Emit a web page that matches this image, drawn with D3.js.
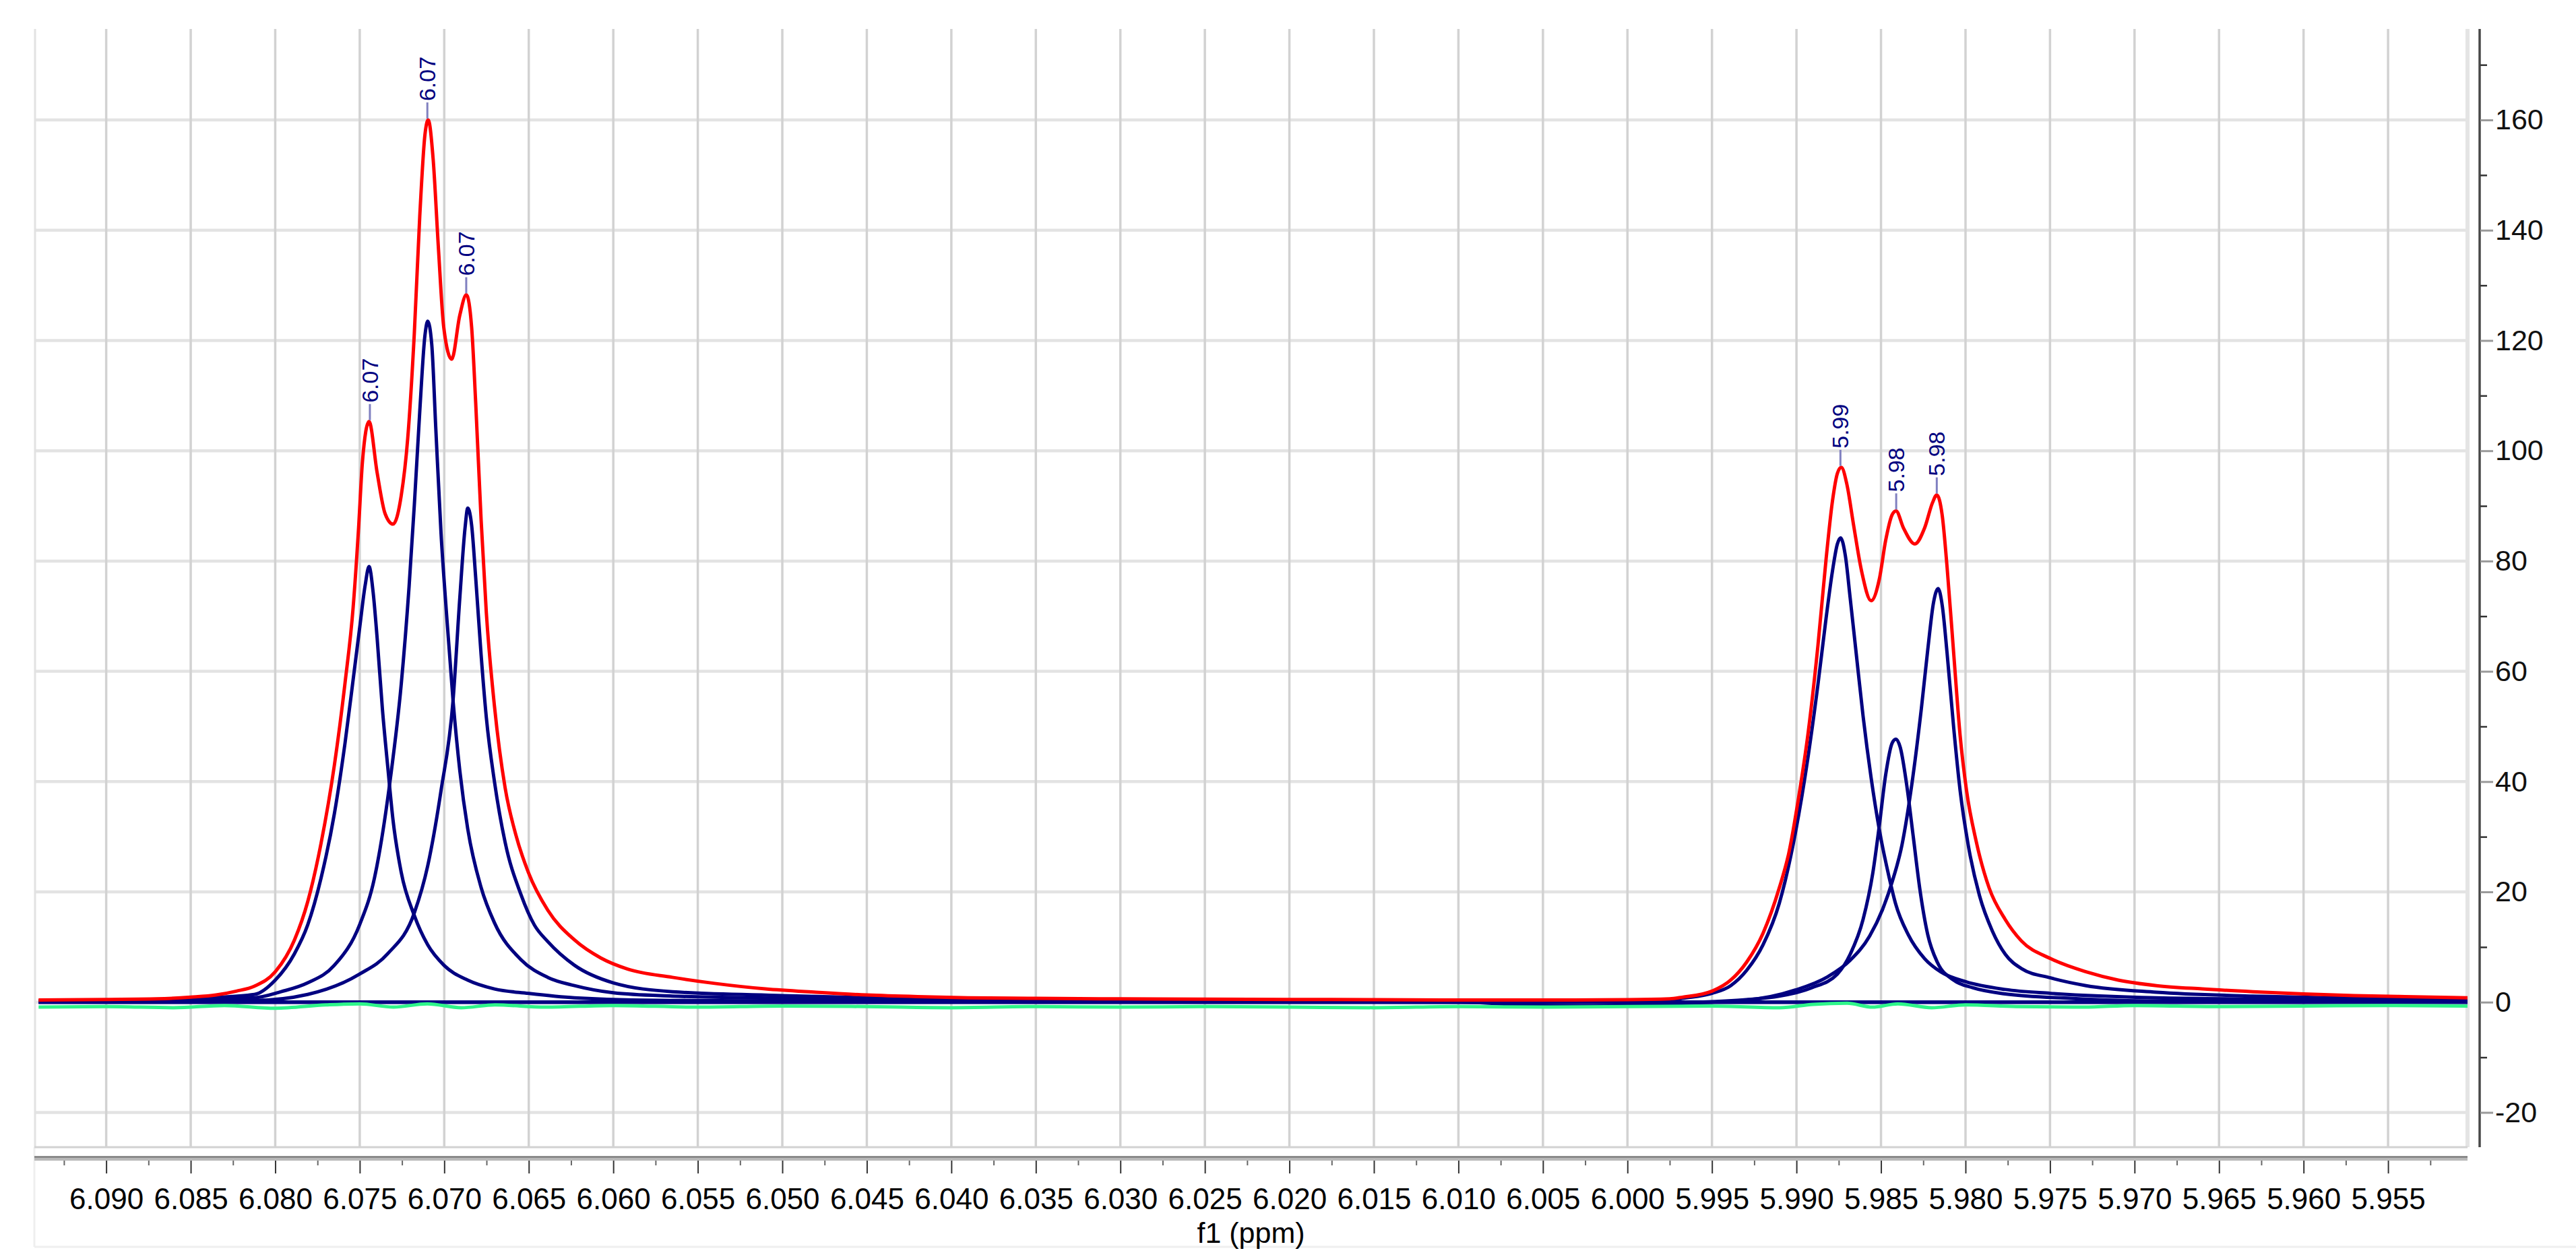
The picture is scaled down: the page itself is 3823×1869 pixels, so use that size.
<!DOCTYPE html>
<html><head><meta charset="utf-8">
<script src="https://cdn.jsdelivr.net/npm/d3@7"></script>
<style>html,body{margin:0;padding:0;background:#fff;} svg{display:block;}</style>
</head><body><svg id="c" width="3823" height="1869"></svg>
<script>
// ---------- tick values / labels ----------
const xTickValues = [6.090,6.085,6.080,6.075,6.070,6.065,6.060,6.055,6.050,6.045,6.040,6.035,6.030,6.025,6.020,6.015,6.010,6.005,6.000,5.995,5.990,5.985,5.980,5.975,5.970,5.965,5.960,5.955];
const xTickLabels = ["6.090","6.085","6.080","6.075","6.070","6.065","6.060","6.055","6.050","6.045","6.040","6.035","6.030","6.025","6.020","6.015","6.010","6.005","6.000","5.995","5.990","5.985","5.980","5.975","5.970","5.965","5.960","5.955"];
const xMinorTicks = [6.0925,6.0875,6.0825,6.0775,6.0725,6.0675,6.0625,6.0575,6.0525,6.0475,6.0425,6.0375,6.0325,6.0275,6.0225,6.0175,6.0125,6.0075,6.0025,5.9975,5.9925,5.9875,5.9825,5.9775,5.9725,5.9675,5.9625,5.9575,5.9525];
const yTickValues = [-20,0,20,40,60,80,100,120,140,160];
const yTickLabels = ["-20","0","20","40","60","80","100","120","140","160"];
const yMinorTicks = [-10,10,30,50,70,90,110,130,150,170];
const xAxisTitle = "f1 (ppm)";

// ---------- series: [ppm, intensity] ----------
const redSpectrum = [[6.0940,0.4],[6.0900,0.5],[6.0870,0.6],[6.0850,0.9],[6.0835,1.3],[6.0823,2.0],[6.08123,2.9],[6.0800,5.5],[6.07886,11.3],[6.07808,18.2],[6.07729,28.8],[6.07650,43.0],[6.07587,57.9],[6.07539,71.6],[6.07508,85.4],[6.07484,98.0],[6.07445,105.3],[6.07397,96.0],[6.07350,88.6],[6.07303,86.7],[6.07255,91.8],[6.07216,102.3],[6.07177,121.4],[6.07145,142.5],[6.07114,157.4],[6.07095,160.0],[6.07066,153.0],[6.07035,137.0],[6.07003,122.4],[6.06956,116.6],[6.06908,124.6],[6.06869,128.3],[6.06838,122.4],[6.06814,108.7],[6.06782,87.5],[6.06751,70.6],[6.06703,53.7],[6.06640,38.9],[6.06577,30.4],[6.06502,23.5],[6.06388,16.7],[6.06230,11.3],[6.06073,8.0],[6.05915,6.0],[6.05650,4.5],[6.0540,3.4],[6.0510,2.4],[6.0480,1.8],[6.0450,1.3],[6.0420,1.0],[6.0390,0.8],[6.0350,0.7],[6.0300,0.6],[6.0250,0.55],[6.0200,0.5],[6.0150,0.45],[6.0100,0.4],[6.0050,0.4],[6.0000,0.45],[5.9975,0.6],[5.99676,0.9],[5.99500,2.0],[5.99389,4.0],[5.99294,7.3],[5.99198,12.5],[5.99102,20.7],[5.99045,27.1],[5.98988,37.0],[5.98930,49.1],[5.98873,64.7],[5.98825,80.3],[5.98787,90.9],[5.98758,95.9],[5.98735,97.0],[5.98701,93.8],[5.98663,86.7],[5.98615,78.2],[5.98558,72.8],[5.98510,76.7],[5.98472,83.8],[5.98434,88.4],[5.98411,89.1],[5.98367,86.0],[5.98300,83.1],[5.98242,86.0],[5.98195,90.6],[5.98170,92.0],[5.98137,88.1],[5.98109,78.9],[5.98070,63.3],[5.98032,48.4],[5.97994,38.4],[5.97937,29.2],[5.97860,20.7],[5.97765,15.0],[5.97669,11.1],[5.97497,7.9],[5.97287,5.5],[5.97096,4.0],[5.96870,3.0],[5.9660,2.4],[5.9630,1.9],[5.9600,1.5],[5.9570,1.2],[5.9540,1.0],[5.9503,0.8]];

const fitPeak1 = [[6.0940,0.2],[6.0880,0.4],[6.0840,0.8],[6.08123,1.4],[6.0800,4.0],[6.07886,8.8],[6.07808,14.0],[6.07729,22.5],[6.07650,34.2],[6.07587,47.0],[6.07539,58.5],[6.07500,68.0],[6.07468,75.6],[6.07445,79.0],[6.07421,74.4],[6.07397,66.0],[6.07366,53.2],[6.07334,42.6],[6.07303,33.0],[6.07255,23.6],[6.07177,15.7],[6.07098,10.4],[6.07002,6.7],[6.06861,4.0],[6.06703,2.4],[6.06502,1.6],[6.06230,0.8],[6.05650,0.3],[6.0450,0.15],[6.0300,0.05],[6.0100,0.0],[5.9503,0.0]];
const fitPeak2 = [[6.0940,0.2],[6.0870,0.4],[6.08123,0.8],[6.07965,1.9],[6.07808,3.5],[6.07650,6.7],[6.07500,14.1],[6.07413,22.5],[6.07319,40.5],[6.07255,57.5],[6.07208,75.4],[6.07177,90.2],[6.07145,107.1],[6.07114,121.0],[6.07098,123.5],[6.07074,119.3],[6.07050,104.0],[6.07019,85.0],[6.06987,70.6],[6.06948,54.7],[6.06908,42.0],[6.06861,31.4],[6.06782,20.8],[6.06703,14.4],[6.06546,7.7],[6.06388,4.5],[6.06230,3.0],[6.06000,1.7],[6.05650,1.1],[6.0500,0.7],[6.0450,0.45],[6.0350,0.25],[6.0200,0.1],[6.0050,0.0],[5.9503,0.0]];
const fitPeak3 = [[6.0940,0.1],[6.08123,0.3],[6.07808,1.4],[6.07500,5.1],[6.07334,8.8],[6.07177,16.2],[6.07098,24.7],[6.07019,38.4],[6.06948,54.7],[6.06908,73.3],[6.06877,86.0],[6.06861,89.6],[6.06838,86.5],[6.06814,77.0],[6.06782,63.0],[6.06751,51.6],[6.06703,40.0],[6.06640,29.0],[6.06546,19.5],[6.06467,14.0],[6.06388,11.0],[6.06230,6.7],[6.06000,3.5],[6.05650,1.9],[6.0500,1.2],[6.0450,0.8],[6.0400,0.55],[6.0300,0.3],[6.0200,0.15],[6.0050,0.0],[5.9503,0.0]];
const fitPeak4 = [[6.0940,0.0],[6.0100,0.0],[6.0060,-0.5],[6.0020,-0.7],[5.99867,-0.2],[5.99676,0.7],[5.99500,1.6],[5.99389,3.0],[5.99294,5.8],[5.99198,10.4],[5.99102,17.9],[5.99007,30.6],[5.98930,44.8],[5.98873,57.6],[5.98825,69.6],[5.98787,78.2],[5.98758,83.1],[5.98739,84.2],[5.98711,81.0],[5.98682,73.2],[5.98644,62.5],[5.98606,51.9],[5.98558,40.6],[5.98510,31.3],[5.98453,22.8],[5.98414,17.9],[5.98338,12.2],[5.98242,7.9],[5.98147,5.5],[5.97998,3.7],[5.97765,2.3],[5.97497,1.6],[5.96870,0.8],[5.9600,0.5],[5.9503,0.3]];
const fitPeak5 = [[6.0940,0.0],[6.0000,0.0],[5.99867,-0.2],[5.99500,0.1],[5.99102,1.1],[5.98911,2.6],[5.98758,5.1],[5.98682,8.7],[5.98606,15.0],[5.98548,23.5],[5.98510,32.0],[5.98472,41.3],[5.98434,47.0],[5.98411,47.7],[5.98386,46.2],[5.98347,39.2],[5.98309,30.0],[5.98271,20.7],[5.98223,12.2],[5.98166,7.2],[5.98070,4.0],[5.97956,2.6],[5.97765,1.5],[5.97382,0.7],[5.96870,0.2],[5.9503,0.1]];
const fitPeak6 = [[6.0940,0.0],[6.0000,0.0],[5.99867,-0.3],[5.99294,0.4],[5.99007,2.2],[5.98816,4.6],[5.98682,7.6],[5.98567,12.0],[5.98491,16.8],[5.98434,21.8],[5.98376,28.5],[5.98319,39.2],[5.98261,53.3],[5.98223,64.0],[5.98189,72.5],[5.98162,75.0],[5.98137,71.8],[5.98109,63.3],[5.98070,49.8],[5.98032,38.4],[5.97984,28.5],[5.97917,19.3],[5.97841,12.9],[5.97765,8.7],[5.97669,6.1],[5.97497,4.4],[5.97287,3.0],[5.96870,1.8],[5.9630,1.1],[5.9570,0.7],[5.9503,0.5]];

const residual = [[6.0940,-0.9],[6.0900,-0.8],[6.0860,-1.0],[6.0830,-0.6],[6.0800,-1.1],[6.0770,-0.5],[6.0750,-0.3],[6.0730,-0.9],[6.0710,-0.3],[6.0690,-1.0],[6.0670,-0.5],[6.0640,-0.9],[6.0600,-0.6],[6.0550,-0.9],[6.0500,-0.7],[6.0450,-0.8],[6.0400,-1.0],[6.0350,-0.8],[6.0300,-0.9],[6.0250,-0.8],[6.0200,-0.9],[6.0150,-1.0],[6.0100,-0.8],[6.0050,-0.9],[6.0000,-0.8],[5.9950,-0.7],[5.9910,-1.0],[5.9890,-0.4],[5.9870,-0.2],[5.9855,-0.9],[5.9840,-0.3],[5.9820,-1.0],[5.9800,-0.5],[5.9770,-0.8],[5.9730,-0.9],[5.9700,-0.6],[5.9650,-0.8],[5.9600,-0.7],[5.9550,-0.6],[5.9503,-0.7]];

const peakPpm = [6.0744, 6.0710, 6.0687, 5.9874, 5.9841, 5.9817];
const peakLabels = ["6.07", "6.07", "6.07", "5.99", "5.98", "5.98"];

// ---------- drawing ----------
const FONT = "'Liberation Sans', Arial, sans-serif";
const svg = d3.select('#c');
const L = 51, R = 3662, T = 43, B = 1703;
const x = d3.scaleLinear().domain([6.09425, 5.9503]).range([L, R]);
const y = d3.scaleLinear().domain([-26.3, 176.5]).range([B, T]);

// outer frame (faint)
svg.append('line').attr('x1', L).attr('x2', 3823).attr('y1', 1851).attr('y2', 1851).attr('stroke', '#efefef').attr('stroke-width', 3);
svg.append('line').attr('x1', L).attr('x2', L).attr('y1', B).attr('y2', 1851).attr('stroke', '#efefef').attr('stroke-width', 3);

// grid
svg.append('g').selectAll('line').data(yTickValues).join('line')
  .attr('x1', L).attr('x2', R).attr('y1', d => y(d)).attr('y2', d => y(d))
  .attr('stroke', '#e3e3e3').attr('stroke-width', 4.5);
svg.append('g').selectAll('line').data(xTickValues).join('line')
  .attr('x1', d => x(d)).attr('x2', d => x(d)).attr('y1', T).attr('y2', B)
  .attr('stroke', '#d2d2d2').attr('stroke-width', 3.5);

// plot borders
svg.append('line').attr('x1', L + 1).attr('x2', L + 1).attr('y1', T).attr('y2', B).attr('stroke', '#e2e2e2').attr('stroke-width', 3);
svg.append('rect').attr('x', R - 3).attr('y', T).attr('width', 6).attr('height', B - T).attr('fill', '#e4e4e4');
svg.append('line').attr('x1', L).attr('x2', R).attr('y1', B).attr('y2', B).attr('stroke', '#d2d2d2').attr('stroke-width', 3);

// x axis bar
svg.append('rect').attr('x', L).attr('y', 1716).attr('width', R - L).attr('height', 3).attr('fill', '#8a8a8a');
svg.append('rect').attr('x', L).attr('y', 1719).attr('width', R - L).attr('height', 4).attr('fill', '#b9b9b9');

// x axis
const gxMinor = svg.append('g').attr('transform', 'translate(0,1723)')
  .call(d3.axisBottom(x).tickValues(xMinorTicks).tickSize(7).tickFormat(''));
gxMinor.select('.domain').remove();
gxMinor.selectAll('.tick line').attr('stroke', '#666').attr('stroke-width', 2);

const gx = svg.append('g').attr('transform', 'translate(0,1723)')
  .call(d3.axisBottom(x).tickValues(xTickValues).tickSize(19).tickPadding(22)
    .tickFormat((d, i) => xTickLabels[i]));
gx.select('.domain').remove();
gx.selectAll('.tick line').attr('stroke', '#333').attr('stroke-width', 2);
gx.selectAll('.tick text').attr('font-family', FONT).attr('font-size', 44).attr('fill', '#000');

svg.append('text').attr('x', (L + R) / 2).attr('y', 1845).attr('text-anchor', 'middle')
  .attr('font-family', FONT).attr('font-size', 43).attr('fill', '#000').text(xAxisTitle);

// y axis (right)
svg.append('line').attr('x1', 3680).attr('x2', 3680).attr('y1', T).attr('y2', B).attr('stroke', '#484848').attr('stroke-width', 3.5);
const gyMinor = svg.append('g').attr('transform', 'translate(3681,0)')
  .call(d3.axisRight(y).tickValues(yMinorTicks).tickSize(10).tickFormat(''));
gyMinor.select('.domain').remove();
gyMinor.selectAll('.tick line').attr('stroke', '#333').attr('stroke-width', 2.5);
const gy = svg.append('g').attr('transform', 'translate(3681,0)')
  .call(d3.axisRight(y).tickValues(yTickValues).tickSize(19).tickPadding(3)
    .tickFormat((d, i) => yTickLabels[i]));
gy.select('.domain').remove();
gy.selectAll('.tick line').attr('stroke', '#9a9a9a').attr('stroke-width', 3);
gy.selectAll('.tick text').attr('font-family', FONT).attr('font-size', 43).attr('fill', '#111');

// curves
const sortDesc = a => a.slice().sort((p, q) => q[0] - p[0]);
const line = d3.line().x(d => x(d[0])).y(d => y(d[1])).curve(d3.curveMonotoneX);
const plot = svg.append('g');
[fitPeak1, fitPeak2, fitPeak3, fitPeak4, fitPeak5, fitPeak6].forEach(s => {
  plot.append('path').attr('d', line(sortDesc(s))).attr('fill', 'none')
    .attr('stroke', '#000080').attr('stroke-width', 5).attr('stroke-linejoin', 'round');
});
plot.append('path').attr('d', line(sortDesc(residual))).attr('fill', 'none')
  .attr('stroke', '#2ef58a').attr('stroke-width', 5);
plot.append('path').attr('d', line(sortDesc(redSpectrum))).attr('fill', 'none')
  .attr('stroke', '#ff0000').attr('stroke-width', 5).attr('stroke-linejoin', 'round');

// peak labels
const peakTop = p => {
  let best = redSpectrum[0];
  redSpectrum.forEach(d => { if (Math.abs(d[0] - p) < Math.abs(best[0] - p)) best = d; });
  return best[1];
};
const lab = svg.append('g');
peakPpm.forEach((p, i) => {
  const px = x(p), py = y(peakTop(p));
  lab.append('line').attr('x1', px).attr('x2', px).attr('y1', py - 2).attr('y2', py - 26)
    .attr('stroke', '#8080c0').attr('stroke-width', 3);
  lab.append('text').attr('transform', `translate(${px},${py - 28}) rotate(-90)`)
    .attr('text-anchor', 'start').attr('dominant-baseline', 'central')
    .attr('font-family', FONT).attr('font-size', 34).attr('fill', '#000080').text(peakLabels[i]);
});
</script>
</body></html>
